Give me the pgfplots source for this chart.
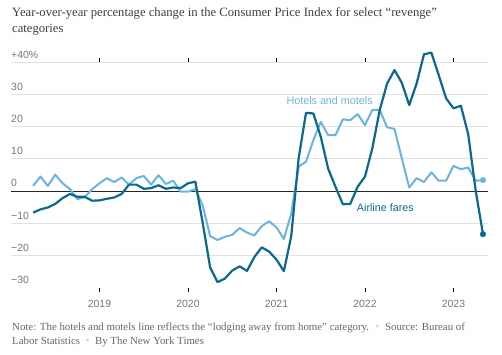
\documentclass[border=0pt]{standalone}
\usepackage{pgfplots}
\usepackage{pgfplotstable}
\pgfplotsset{compat=1.18}
\usepackage{fontspec}
\setmainfont{Liberation Serif}
\setsansfont{Liberation Sans}
\definecolor{hotel}{HTML}{6CB4E0}
\definecolor{air}{HTML}{0B6A8C}
\definecolor{ticktxt}{HTML}{777777}
\definecolor{titletxt}{HTML}{3E3E3E}
\definecolor{notetxt}{HTML}{666666}
\definecolor{gridc}{HTML}{E2E2E2}

\pgfplotstableread{
x hotel air
2018.25 1.6 -6.7
2018.3333 4.5 -5.7
2018.4167 1.6 -5.1
2018.5 5.1 -4.0
2018.5833 2.4 -2.2
2018.6667 0.6 -0.9
2018.75 -2.5 -1.8
2018.8333 -1.9 -1.8
2018.9167 0.6 -3.0
2019.0 2.4 -2.9
2019.0833 4.0 -2.4
2019.1667 2.8 -2.0
2019.25 4.2 -0.9
2019.3333 2.0 2.0
2019.4167 4.0 2.0
2019.5 4.7 0.7
2019.5833 2.0 0.9
2019.6667 4.9 1.8
2019.75 2.2 0.7
2019.8333 3.2 1.1
2019.9167 -0.2 0.9
2020.0 -0.2 2.4
2020.0833 0.6 2.9
2020.1667 -4.5 -10.0
2020.25 -14.0 -23.7
2020.3333 -15.2 -28.3
2020.4167 -14.2 -27.2
2020.5 -13.6 -24.7
2020.5833 -11.5 -23.4
2020.6667 -12.9 -24.8
2020.75 -13.8 -20.5
2020.8333 -10.9 -17.5
2020.9167 -9.4 -18.8
2021.0 -11.3 -21.3
2021.0833 -14.9 -24.9
2021.1667 -7.0 -14.0
2021.25 7.6 10.1
2021.3333 9.1 24.3
2021.4167 15.8 24.1
2021.5 21.5 16.9
2021.5833 17.4 7.0
2021.6667 17.4 1.3
2021.75 22.3 -4.1
2021.8333 22.0 -4.0
2021.9167 23.9 1.3
2022.0 20.5 4.5
2022.0833 25.2 13.3
2022.1667 25.2 25.2
2022.25 19.8 33.4
2022.3333 19.3 37.6
2022.4167 10.1 33.6
2022.5 1.1 26.7
2022.5833 4.0 33.4
2022.6667 2.8 42.5
2022.75 5.8 43.0
2022.8333 3.2 36.0
2022.9167 3.2 28.8
2023.0 7.8 25.7
2023.0833 6.8 26.5
2023.1667 7.3 17.6
2023.25 3.2 0.3
2023.3333 3.4 -13.4
}\cpidata

\begin{document}
\begin{tikzpicture}
\path[use as bounding box] (0bp,0bp) rectangle (502bp,355bp);
\node[anchor=base west, inner sep=0pt, text=titletxt, font=\fontsize{12.7}{15}\selectfont] at (12bp,338.3bp) {Year-over-year percentage change in the Consumer Price Index for select “revenge”};
\node[anchor=base west, inner sep=0pt, text=titletxt, font=\fontsize{12.7}{15}\selectfont] at (12bp,322.7bp) {categories};
\begin{axis}[
  at={(11bp,67.4bp)}, anchor=south west,
  scale only axis, width=477bp, height=225.3bp,
  xmin=2018, xmax=2023.39, ymin=-30, ymax=40,
  clip=false,
  axis line style={draw=none},
  xtick={2019,2020,2021,2022,2023},
  xticklabels={2019,2020,2021,2022,2023},
  xtick align=outside,
  xtick style={draw=black, line width=0.8pt},
  major tick length=4bp,
  xticklabel style={font=\sffamily\fontsize{10.5}{12}\selectfont, text=ticktxt, anchor=north, inner sep=0pt, yshift=-8bp},
  ytick={-30,-20,-10,0,10,20,30,40},
  yticklabels={−30,−20,−10,0,10,20,30,+40\%},
  ytick style={draw=none},
  yticklabel style={font=\sffamily\fontsize{10.5}{12}\selectfont, text=ticktxt, anchor=base west, inner sep=0pt, yshift=4.2bp},
  extra y ticks={-20,-10,10,20,30,40},
  extra y tick labels={},
  extra y tick style={ymajorgrids=true, ytick style={draw=none}},
  grid style={gridc, line width=0.8pt},
]
\draw[black!85, line width=0.8pt] (axis cs:2018,0) -- (axis cs:2023.39,0);
\addplot[hotel, line width=2bp, line join=round] table[x=x, y=hotel] {\cpidata};
\addplot[air, line width=2.2bp, line join=round] table[x=x, y=air] {\cpidata};
\addplot[only marks, mark=*, mark size=2.8pt, hotel] coordinates {(2023.3333,3.4)};
\addplot[only marks, mark=*, mark size=2.8pt, air] coordinates {(2023.3333,-13.4)};
\node[text=hotel, font=\sffamily\fontsize{10.8}{12}\selectfont] at (axis cs:2021.60,27.95) {Hotels and motels};
\node[text=air, font=\sffamily\fontsize{10.8}{12}\selectfont] at (axis cs:2022.23,-5.3) {Airline fares};
\end{axis}
\node[anchor=base west, inner sep=0pt, text=notetxt, font=\fontsize{10.9}{12}\selectfont] at (12bp,24.5bp) {Note: The hotels and motels line reflects the “lodging away from home” category. \ \textcolor{gray!30}{\large•}\ \ Source: Bureau of};
\node[anchor=base west, inner sep=0pt, text=notetxt, font=\fontsize{10.9}{12}\selectfont] at (12bp,11bp) {Labor Statistics \ \textcolor{gray!30}{\large•}\ \ By The New York Times};
\end{tikzpicture}
\end{document}
